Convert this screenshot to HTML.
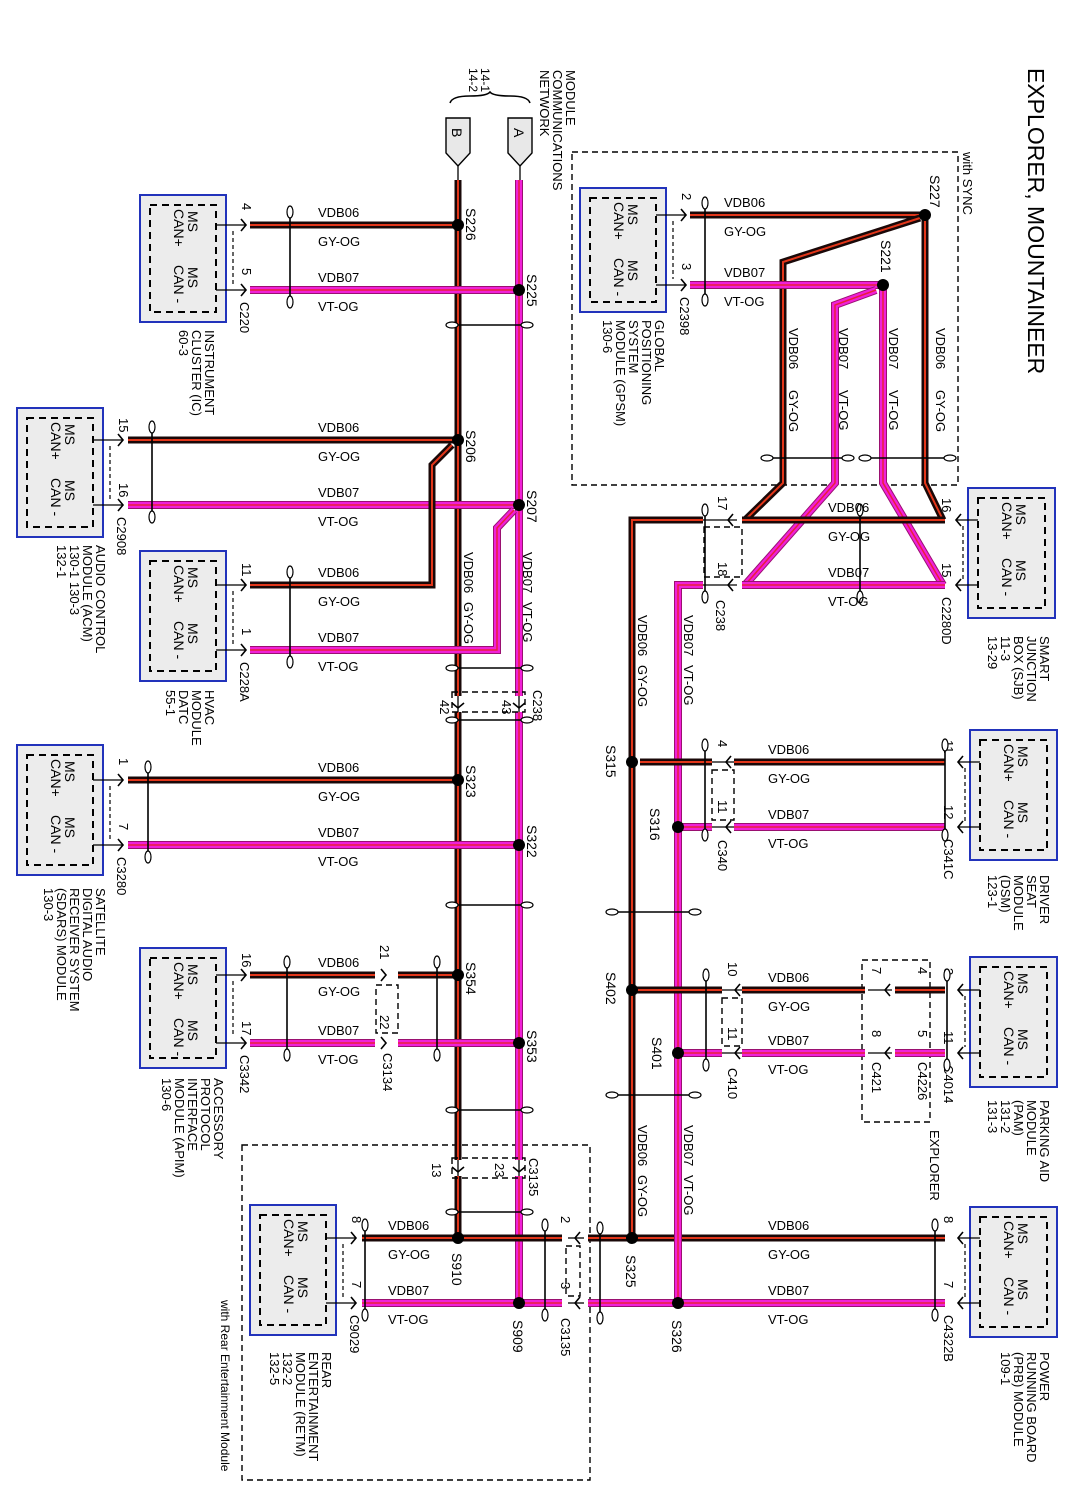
<!DOCTYPE html>
<html><head><meta charset="utf-8"><style>
html,body{margin:0;padding:0;background:#fff;}
svg{display:block;font-family:"Liberation Sans",Arial,sans-serif;}
</style></head><body>
<svg id="d" width="1085" height="1490" viewBox="0 0 1085 1490" xmlns="http://www.w3.org/2000/svg"></svg>
<script>
let s='';
const R=(x,y,t,fs=13)=>s+=`<text transform="translate(${x},${y}) rotate(90)" font-size="${fs}">${t}</text>`;
const RL=(x,y,l,fs=13,lh=13)=>l.forEach((t,i)=>R(x-i*lh,y,t,fs));
const H=(x,y,t,fs=13)=>s+=`<text x="${x}" y="${y}" font-size="${fs}">${t}</text>`;
const P=p=>p.map(q=>q.join(',')).join(' ');
const W6=p=>s+=`<polyline points="${P(p)}" fill="none" stroke="#1a0808" stroke-width="7"/><polyline points="${P(p)}" fill="none" stroke="#e2361a" stroke-width="2"/>`;
const W7=p=>s+=`<polyline points="${P(p)}" fill="none" stroke="#9a1070" stroke-width="8"/><polyline points="${P(p)}" fill="none" stroke="#f020d8" stroke-width="6"/><polyline points="${P(p)}" fill="none" stroke="#e8203c" stroke-width="1.5"/>`;
const dot=(x,y)=>s+=`<circle cx="${x}" cy="${y}" r="6" fill="#000"/>`;
const gap=(x,y,w,h)=>s+=`<rect x="${x}" y="${y}" width="${w}" height="${h}" fill="#fff"/>`;
const L=(x1,y1,x2,y2,w=1.3,da='')=>s+=`<line x1="${x1}" y1="${y1}" x2="${x2}" y2="${y2}" stroke="#000" stroke-width="${w}" ${da?`stroke-dasharray="${da}"`:''}/>`;
const DR=(x,y,w,h)=>s+=`<rect x="${x}" y="${y}" width="${w}" height="${h}" fill="none" stroke="#000" stroke-width="1.4" stroke-dasharray="6,4"/>`;
const chev=(x,y,d)=>{
 let p = d=='r'?`M${x-5},${y-6} L${x},${y} L${x-5},${y+6}`: d=='l'?`M${x+5},${y-6} L${x},${y} L${x+5},${y+6}`:`M${x-6},${y-5} L${x},${y} L${x+6},${y-5}`;
 s+=`<path d="${p}" fill="none" stroke="#000" stroke-width="1.6"/>`;
};
const tw=(x1,y1,x2,y2)=>{
 s+=`<line x1="${x1}" y1="${y1}" x2="${x2}" y2="${y2}" stroke="#000" stroke-width="1.6"/>`;
 if(x1==x2){s+=`<ellipse cx="${x1}" cy="${y1}" rx="3" ry="6" fill="#fff" stroke="#000" stroke-width="1.2"/><ellipse cx="${x2}" cy="${y2}" rx="3" ry="6" fill="#fff" stroke="#000" stroke-width="1.2"/>`;}
 else{s+=`<ellipse cx="${x1}" cy="${y1}" rx="6" ry="3" fill="#fff" stroke="#000" stroke-width="1.2"/><ellipse cx="${x2}" cy="${y2}" rx="6" ry="3" fill="#fff" stroke="#000" stroke-width="1.2"/>`;}
};
const mod=(x,y,w,h)=>{
 s+=`<rect x="${x}" y="${y}" width="${w}" height="${h}" fill="#ececec" stroke="#2233bb" stroke-width="2"/>`;
 s+=`<rect x="${x+10}" y="${y+10}" width="${w-20}" height="${h-20}" fill="none" stroke="#000" stroke-width="2" stroke-dasharray="7,5"/>`;
 R(x+48,y+16,'MS',14);R(x+34,y+14,'CAN+',14);R(x+48,y+72,'MS',14);R(x+34,y+70,'CAN -',14);
};
const leftMod=(x,y,h,w1,w2,p1,p2,cn,nx,ny,names)=>{
 mod(x,y,86,h);const r=x+86;
 L(r-10,w1,r+20,w1);L(r-10,w2,r+20,w2);
 chev(r+20,w1,'r');chev(r+20,w2,'r');
 R(r+16,w1-22,p1);R(r+16,w2-22,p2);R(r+14,w2+12,cn);
 L(r+7,w1+6,r+7,w2-6,1.2,'4,3');
 RL(nx,ny,names);
};
const rightMod=(x,y,h,w1,w2,p1,p2,cn,nx,ny,names)=>{
 mod(x,y,87,h);
 L(x+10,w1,x-12,w1);L(x+10,w2,x-12,w2);
 chev(x-12,w1,'l');chev(x-12,w2,'l');
 R(x-26,w1-22,p1);R(x-26,w2-22,p2);R(x-26,w2+12,cn);
 L(x-5,w1+6,x-5,w2-6,1.2,'4,3');
 RL(nx,ny,names);
};

DR(572,152,386,333);DR(242,1145,348,335);DR(862,960,68,162);

R(1028,68,'EXPLORER, MOUNTAINEER',23);
R(963,152,'with SYNC',13);
RL(566,70,['MODULE','COMMUNICATIONS','NETWORK'],13,13);
RL(481,68,['14-1','14-2'],12,12);
s+=`<path d="M450,103 Q452,96 470,96 Q487,96 490,92 Q493,96 510,96 Q528,96 530,103" fill="none" stroke="#000" stroke-width="1.5"/>`;
s+=`<polygon points="446,118 470,118 470,153 458,166 446,153" fill="#e8e8e8" stroke="#000" stroke-width="1.4"/>`;
s+=`<polygon points="508,118 532,118 532,153 520,166 508,153" fill="#e8e8e8" stroke="#000" stroke-width="1.4"/>`;
R(452,128,'B',14);R(514,128,'A',14);
L(458,166,458,180);L(520,166,520,180);

W6([[458,180],[458,1238]]);W7([[519,180],[519,1303]]);
W6([[250,225],[458,225]]);W7([[250,290],[519,290]]);
W6([[128,440],[458,440]]);W7([[128,505],[519,505]]);
W6([[250,585],[432,585],[432,465],[452,445]]);
W7([[250,650],[497,650],[497,528],[514,510]]);
W6([[128,780],[458,780]]);W7([[128,845],[519,845]]);
W6([[250,975],[375,975]]);W6([[398,975],[458,975]]);
W7([[250,1043],[375,1043]]);W7([[398,1043],[519,1043]]);
W6([[362,1238],[562,1238]]);W6([[588,1238],[945,1238]]);
W7([[362,1303],[562,1303]]);W7([[588,1303],[945,1303]]);
W6([[718,520],[632,520],[632,1238]]);W7([[718,585],[678,585],[678,1303]]);
W6([[690,215],[925,215],[925,483],[943,520]]);
W6([[920,218],[783,262],[783,483],[745,520]]);
W7([[690,285],[883,285]]);
W7([[876,290],[835,305],[835,483],[745,585]]);
W7([[883,285],[883,483],[943,585]]);
W6([[742,520],[945,520]]);W7([[742,585],[945,585]]);
W6([[640,762],[945,762]]);W7([[678,827],[945,827]]);
W6([[632,990],[865,990]]);W6([[895,990],[945,990]]);
W7([[678,1053],[865,1053]]);W7([[895,1053],[945,1053]]);

gap(446,696,80,16);gap(446,1160,80,16);
gap(703,510,34,85);gap(712,752,22,85);gap(722,980,20,82);
gap(568,1228,16,85);gap(868,980,24,82);
L(458,696,458,712);L(519,696,519,712);chev(458,708,'d');chev(519,708,'d');DR(452,692,73,20);
R(440,700,'42');R(502,700,'43');R(533,690,'C238');
L(458,1160,458,1176);L(519,1160,519,1176);chev(458,1172,'d');chev(519,1172,'d');DR(452,1158,73,20);
R(432,1163,'13');R(495,1163,'23');R(529,1158,'C3135');
chev(386,975,'r');chev(386,1043,'r');DR(376,985,22,48);
R(380,945,'21');R(380,1015,'22');R(383,1053,'C3134');
L(703,520,737,520);L(703,585,737,585);chev(728,520,'l');chev(728,585,'l');DR(704,527,38,50);
R(718,496,'17');R(718,562,'18');R(716,600,'C238');
L(712,762,734,762);L(712,827,734,827);chev(726,762,'l');chev(726,827,'l');DR(712,770,22,50);
R(718,740,'4');R(718,800,'11');R(718,840,'C340');
L(722,990,742,990);L(722,1053,742,1053);chev(735,990,'l');chev(735,1053,'l');DR(722,998,20,48);
R(728,962,'10');R(728,1027,'11');R(728,1068,'C410');
L(868,990,892,990);L(868,1053,892,1053);chev(885,990,'l');chev(885,1053,'l');
R(872,967,'7');R(872,1030,'8');R(872,1062,'C421');
R(918,967,'4');R(918,1030,'5');R(918,1062,'C4226');
R(930,1130,'EXPLORER',13);
L(568,1238,584,1238);L(568,1303,584,1303);chev(575,1238,'l');chev(575,1303,'l');DR(566,1246,14,50);
R(561,1216,'2');R(561,1282,'3');R(561,1318,'C3135');

leftMod(140,195,127,225,290,'4','5','C220',205,330,['INSTRUMENT','CLUSTER (IC)','60-3']);
leftMod(17,408,129,440,505,'15','16','C2908',96,545,['AUDIO CONTROL','MODULE (ACM)','130-1   130-3','132-1']);
leftMod(140,551,130,585,650,'11','1','C228A',205,690,['HVAC','MODULE','DATC','55-1']);
leftMod(17,745,130,780,845,'1','7','C3280',96,888,['SATELLITE','DIGITAL AUDIO','RECEIVER SYSTEM','(SDARS) MODULE','130-3']);
leftMod(140,948,120,975,1043,'16','17','C3342',214,1078,['ACCESSORY','PROTOCOL','INTERFACE','MODULE (APIM)','130-6']);
leftMod(250,1205,130,1238,1303,'8','7','C9029',322,1352,['REAR','ENTERTAINMENT','MODULE (RETM)','132-2','132-5']);
R(221,1300,'with Rear Entertainment Module',12);
leftMod(580,188,124,215,285,'2','3','C2398',655,320,['GLOBAL','POSITIONING','SYSTEM','MODULE (GPSM)','130-6']);
rightMod(968,488,130,520,585,'16','15','C2280D',1040,636,['SMART','JUNCTION','BOX (SJB)','11-3','13-29']);
rightMod(970,730,130,762,827,'11','12','C341C',1040,875,['DRIVER','SEAT','MODULE','(DSM)','123-1']);
rightMod(970,957,130,990,1053,'3','11','C4014',1040,1100,['PARKING AID','MODULE','(PAM)','131-2','131-3']);
rightMod(970,1207,130,1238,1303,'8','7','C4322B',1040,1352,['POWER','RUNNING BOARD','(PRB) MODULE','109-1']);

tw(290,212,290,302);tw(152,427,152,517);tw(290,572,290,662);tw(148,767,148,857);
tw(287,962,287,1055);tw(437,962,437,1055);tw(365,1225,365,1315);tw(545,1225,545,1315);tw(600,1228,600,1318);
tw(452,325,527,325);tw(452,668,527,668);tw(452,720,527,720);tw(452,905,527,905);tw(452,1110,527,1110);tw(452,1212,527,1212);
tw(705,203,705,300);tw(767,458,848,458);tw(865,458,950,458);
tw(705,510,705,597);tw(860,510,860,597);tw(705,745,705,835);tw(945,745,945,835);
tw(612,912,695,912);tw(706,975,706,1065);tw(947,975,947,1065);tw(612,1095,695,1095);tw(935,1225,935,1315);

[[458,225],[519,290],[458,440],[519,505],[458,780],[519,845],[458,975],[519,1043],[458,1238],[519,1303],
 [925,215],[883,285],[632,762],[678,827],[632,990],[678,1053],[632,1238],[678,1303]].forEach(p=>dot(...p));
R(466,208,'S226',14);R(527,274,'S225',14);R(466,430,'S206',14);R(527,490,'S207',14);R(466,765,'S323',14);R(527,825,'S322',14);
R(466,962,'S354',14);R(527,1030,'S353',14);R(452,1253,'S910',14);R(513,1320,'S909',14);
R(930,175,'S227',14);R(881,240,'S221',14);R(606,745,'S315',14);R(650,808,'S316',14);R(606,972,'S402',14);R(652,1037,'S401',14);
R(626,1255,'S325',14);R(672,1320,'S326',14);

const lab=(x,y1,y2)=>{H(x,y1-8,'VDB06');H(x,y1+21,'GY-OG');H(x,y2-8,'VDB07');H(x,y2+21,'VT-OG');};
lab(318,225,290);lab(318,440,505);lab(318,585,650);lab(318,780,845);lab(318,975,1043);lab(388,1238,1303);
lab(724,215,285);lab(828,520,585);lab(768,762,827);lab(768,990,1053);lab(768,1238,1303);
const vl=(x,y,a,b,g=50)=>{R(x,y,a);R(x,y+g,b);};
vl(789,328,'VDB06','GY-OG',62);vl(839,328,'VDB07','VT-OG',62);vl(889,328,'VDB07','VT-OG',62);vl(936,328,'VDB06','GY-OG',62);
vl(464,552,'VDB06','GY-OG');vl(523,552,'VDB07','VT-OG');
vl(638,615,'VDB06','GY-OG');vl(684,615,'VDB07','VT-OG');
vl(638,1125,'VDB06','GY-OG');vl(684,1125,'VDB07','VT-OG');

document.getElementById('d').innerHTML=s;
</script>
</body></html>
